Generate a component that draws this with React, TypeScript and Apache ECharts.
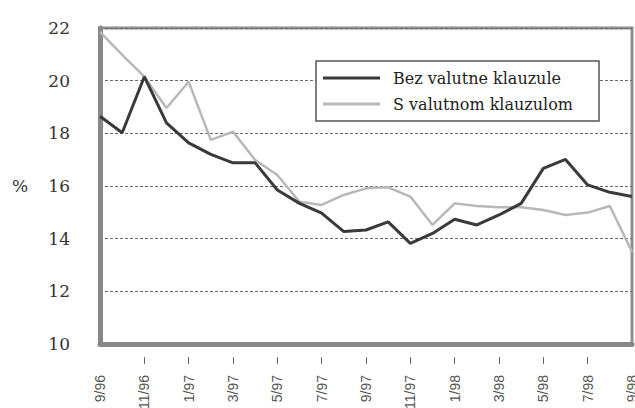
import React, { useEffect, useRef } from "react";
import * as echarts from "echarts";

const months: string[] = [
  "9/96", "10/96", "11/96", "12/96", "1/97", "2/97", "3/97", "4/97", "5/97",
  "6/97", "7/97", "8/97", "9/97", "10/97", "11/97", "12/97", "1/98", "2/98",
  "3/98", "4/98", "5/98", "6/98", "7/98", "8/98", "9/98",
];

const bezValutne: number[] = [
  18.65, 18.02, 20.15, 18.4, 17.64, 17.2, 16.88, 16.88, 15.85, 15.34, 14.97,
  14.27, 14.33, 14.64, 13.82, 14.2, 14.74, 14.52, 14.9, 15.34, 16.67, 17.01,
  16.04, 15.76, 15.6,
];

const sValutnom: number[] = [
  21.85, 20.98, 20.15, 18.96, 19.96, 17.75, 18.06, 16.99, 16.42, 15.4, 15.28,
  15.66, 15.91, 15.95, 15.6, 14.52, 15.34, 15.24, 15.19, 15.19, 15.09, 14.9,
  14.99, 15.24, 13.5,
];

const seriesNames: string[] = ["Bez valutne klauzule", "S valutnom klauzulom"];
const yTicks: number[] = [10, 12, 14, 16, 18, 20, 22];

export default function App() {
  const ref = useRef<HTMLDivElement>(null);
  useEffect(() => {
    if (!ref.current) return;
    const chart = echarts.init(ref.current, null, { renderer: "svg" });
    const serif = "DejaVu Serif";
    const sans = "Liberation Sans Narrow, Liberation Sans, Arial, sans-serif";
    chart.setOption({
      animation: false,
      backgroundColor: "#ffffff",
      grid: {
        left: 100,
        right: 3,
        top: 28,
        bottom: 64,
        outerBoundsMode: "none",
        containLabel: false,
        show: true,
        borderColor: "#8e8e8e",
        borderWidth: 3,
      },
      legend: {
        data: [
          { name: seriesNames[0], itemStyle: { color: "#3a3a3a" } },
          { name: seriesNames[1], itemStyle: { color: "#b8b8b8" } },
        ],
        orient: "vertical",
        left: 316,
        top: 61,
        icon: "rect",
        itemWidth: 57,
        itemHeight: 3,
        itemGap: 10,
        padding: [9, 26, 9, 7],
        backgroundColor: "#ffffff",
        borderColor: "#555555",
        borderWidth: 1.5,
        formatter: (name: string) => "{t|" + name + "}",
        textStyle: {
          fontFamily: serif,
          fontSize: 16,
          color: "#222222",
          rich: {
            t: {
              fontFamily: serif,
              fontSize: 16,
              color: "#222222",
              lineHeight: 18,
              padding: [0, 0, 0, 8],
            },
          },
        },
      },
      xAxis: [
        {
          type: "category",
          data: months,
          boundaryGap: false,
          position: "bottom",
          axisLine: { show: true, lineStyle: { color: "#888888", width: 5 } },
          axisTick: { show: false },
          axisLabel: { show: false },
          splitLine: { show: false },
        },
        {
          type: "category",
          data: months,
          boundaryGap: false,
          position: "bottom",
          offset: 13,
          axisLine: { show: false },
          axisTick: {
            show: true,
            length: 7,
            interval: (i: number) => i % 2 === 0 && i > 0 && i < months.length - 1,
            lineStyle: { color: "#666666", width: 1 },
          },
          axisLabel: {
            show: true,
            interval: 1,
            rotate: 90,
            margin: 18,
            fontFamily: sans,
            fontSize: 14,
            color: "#555555",
          },
          splitLine: { show: false },
        },
      ],
      yAxis: {
        type: "value",
        min: yTicks[0],
        max: yTicks[yTicks.length - 1],
        interval: 2,
        axisLine: { show: true, lineStyle: { color: "#888888", width: 5 } },
        axisTick: { show: false },
        axisLabel: {
          margin: 30,
          fontFamily: serif,
          fontSize: 17,
          color: "#333333",
        },
        splitLine: {
          show: true,
          lineStyle: { color: "#6a6a6a", width: 1, type: [3, 2] },
        },
      },
      graphic: [
        {
          type: "text",
          left: 12,
          top: 177,
          style: { text: "%", fontFamily: serif, fontSize: 17, fill: "#333333" },
        },
      ],
      series: [
        {
          name: seriesNames[1],
          type: "line",
          data: sValutnom,
          symbol: "none",
          lineStyle: { color: "#b8b8b8", width: 2.5 },
          itemStyle: { color: "#b8b8b8" },
          z: 2,
        },
        {
          name: seriesNames[0],
          type: "line",
          data: bezValutne,
          symbol: "none",
          lineStyle: { color: "#3a3a3a", width: 3 },
          itemStyle: { color: "#3a3a3a" },
          z: 3,
        },
      ],
    });
    return () => chart.dispose();
  }, []);
  return (
    <div
      ref={ref}
      style={{ position: "fixed", left: 0, top: 0, width: 635, height: 408 }}
    />
  );
}
